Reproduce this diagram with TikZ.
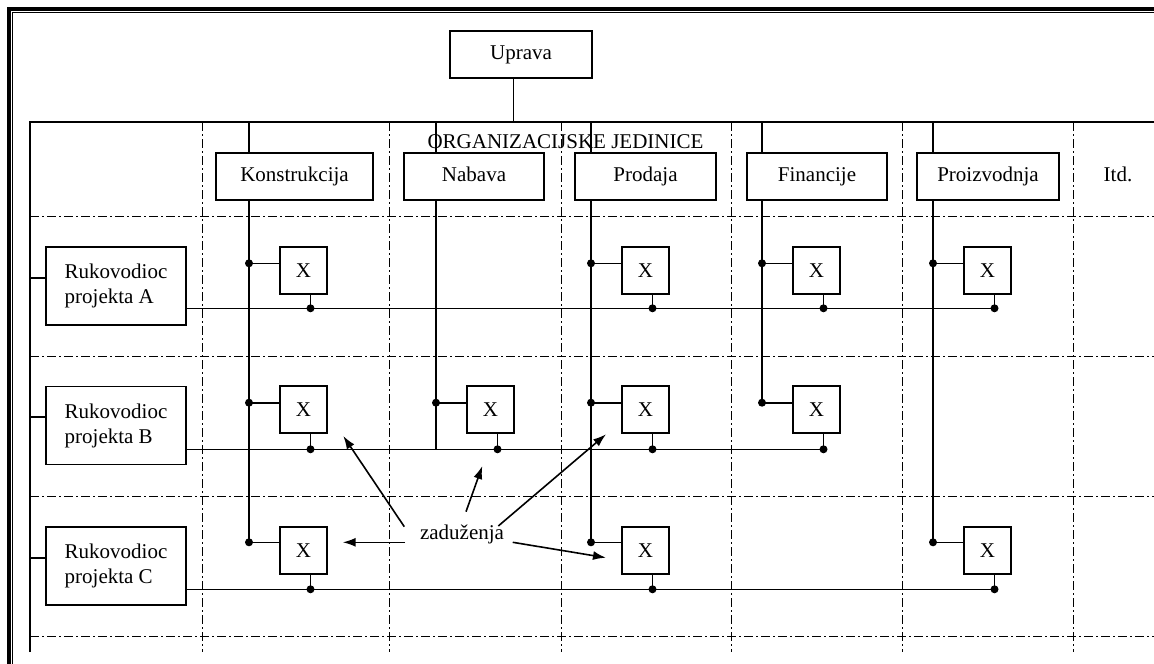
\documentclass[tikz,border=0pt]{standalone}
\usepackage{fontspec}
\setmainfont{Liberation Serif}
\usetikzlibrary{arrows.meta}
\begin{document}
\begin{tikzpicture}[x=1pt,y=-1pt,line width=1.6pt,
  box/.style={draw, fill=white, inner sep=0pt, line width=1.6pt, font=\fontsize{21}{25}\selectfont},
  hbox/.style={box, minimum height=47pt, text height=14pt, text depth=5pt},
  xbox/.style={box, minimum width=47pt, minimum height=47pt},
  rbox/.style={box, minimum width=140pt, minimum height=78pt, align=left},
  gridline/.style={line width=1pt, dash pattern=on 9pt off 3pt on 2pt off 3pt},
  dot/.style={circle, fill, inner sep=0pt, minimum size=8pt},
  arr/.style={-{Latex[length=13pt,width=9pt]}, line width=1.6pt},
  lbl/.style={inner sep=0pt, font=\fontsize{21}{25}\selectfont}]
\useasboundingbox (0,0) rectangle (1154,664);
\fill[white] (0,0) rectangle (1154,664);
% page frame
\draw[line width=3.6pt] (8.7,664) -- (8.7,8.7) -- (1154,8.7);
\draw[line width=1.2pt] (12.3,664) -- (12.3,12.3) -- (1154,12.3);
% grid
\foreach \y in {216,356,496,636} \draw[gridline] (30,\y) -- (1154,\y);
\foreach \x in {202,389,561,731,902,1073} \draw[gridline] (\x,122) -- (\x,652);
% table frame
\coordinate (top) at (30,122);
\draw (30,652) -- (top) -- (1154,122);
% Uprava
\node[hbox, minimum width=142pt] (up) at (521,54.5) {Uprava};
\draw ([xshift=-7.7pt]up.south) -- ([xshift=-7.7pt]up.south |- top);
\node[lbl, anchor=base] (org) at (565.5,148) {ORGANIZACIJSKE JEDINICE};
% column headers
\coordinate (cK) at (249,122);
\coordinate (cN) at (436,122);
\coordinate (cP) at (591,122);
\coordinate (cF) at (762,122);
\coordinate (cR) at (933,122);
\node[hbox, minimum width=157pt] (hK) at (294.5,176.5) {Konstrukcija};
\node[hbox, minimum width=140pt] (hN) at (474,176.5) {Nabava};
\node[hbox, minimum width=141pt] (hP) at (645.5,176.5) {Prodaja};
\node[hbox, minimum width=140pt] (hF) at (817,176.5) {Financije};
\node[hbox, minimum width=142pt] (hR) at (988,176.5) {Proizvodnja};
\node[lbl, anchor=base] (itd) at (1118,181) {Itd.};
\foreach \c/\h in {cK/hK,cN/hN,cP/hP,cF/hF,cR/hR}
  \draw (\c) -- (\h.north -| \c);
% project managers
\node[rbox] (rA) at (116,286) {Rukovodioc\\projekta A};
\node[rbox] (rB) at (116,425.5) {Rukovodioc\\projekta B};
\node[rbox] (rC) at (116,566) {Rukovodioc\\projekta C};
\foreach \r in {rA,rB,rC}
  \draw ([yshift=8.3pt]\r.west) -- ++(-16,0);
% X boxes
\foreach \n/\cx in {K/249,P/591,F/762,R/933}{
  \node[xbox] (xA\n) at (\cx+54.5,270.5) {X};
  \node[dot] (dA\n) at (\cx,263.3) {};
  \node[dot] (bA\n) at (\cx+61.5,308.3) {};
}
\foreach \n/\cx in {K/249,N/436,P/591,F/762}{
  \node[xbox] (xB\n) at (\cx+54.5,409.5) {X};
  \node[dot] (dB\n) at (\cx,402.7) {};
  \node[dot] (bB\n) at (\cx+61.5,449.3) {};
}
\foreach \n/\cx in {K/249,P/591,R/933}{
  \node[xbox] (xC\n) at (\cx+54.5,550.5) {X};
  \node[dot] (dC\n) at (\cx,542.3) {};
  \node[dot] (bC\n) at (\cx+61.5,589.3) {};
}
% column lines
\draw (hK.south -| cK) -- (dCK.center);
\draw (hN.south -| cN) -- (cN |- bBN);
\draw (hP.south -| cP) -- (dCP.center);
\draw (hF.south -| cF) -- (dBF.center);
\draw (hR.south -| cR) -- (dCR.center);
% row lines
\draw (rA.east |- bAR) -- (bAR.center);
\draw (rB.east |- bBF) -- (bBF.center);
\draw (rC.east |- bCR) -- (bCR.center);
% connections to X boxes
\foreach \n in {AK,AP,AF,AR,BK,BN,BP,BF,CK,CP,CR}{
  \draw (d\n.center) -- (x\n.west |- d\n);
  \draw (x\n.south -| b\n) -- (b\n.center);
}
% zaduzenja
\node[lbl, anchor=base] (zad) at (462,539.3) {zaduženja};
\coordinate (s1) at (404.3,526.7); \coordinate (e1) at (343.3,436);
\coordinate (s2) at (466,511.7);   \coordinate (e2) at (482.3,466);
\coordinate (s3) at (498.3,526);   \coordinate (e3) at (606,434.3);
\coordinate (s4) at (405,542.3);   \coordinate (e4) at (342.7,542.3);
\coordinate (s5) at (512.7,542.3); \coordinate (e5) at (606,557.7);
\foreach \i in {1,...,5} \draw[arr] (s\i) -- (e\i);
\end{tikzpicture}
\end{document}
